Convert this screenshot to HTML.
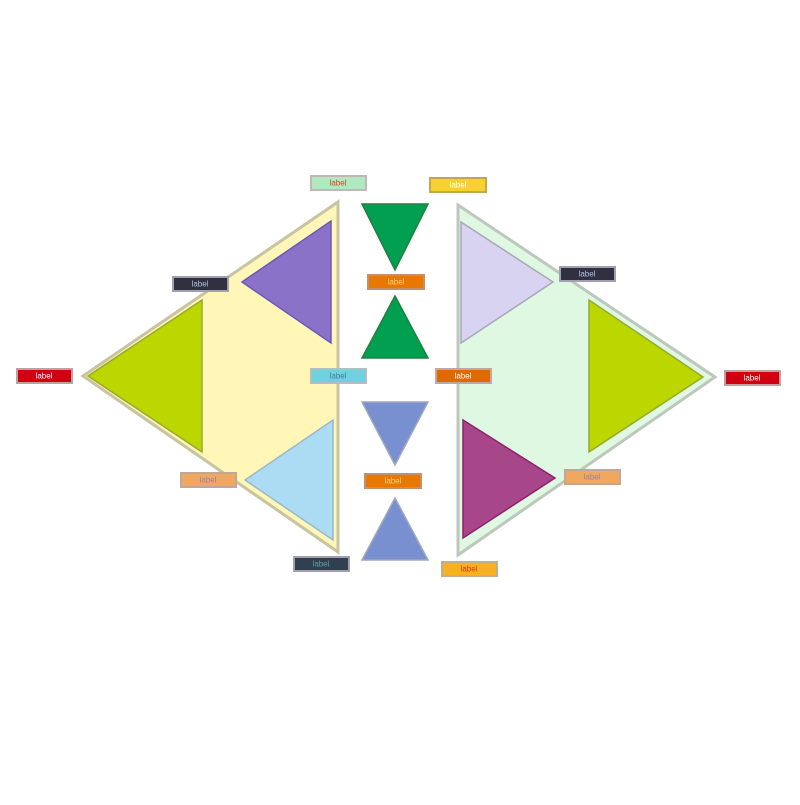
<!DOCTYPE html>
<html><head><meta charset="utf-8"><style>
body{margin:0;background:#fff;width:800px;height:800px;overflow:hidden}
svg text{font-family:"Liberation Sans",sans-serif;font-size:8px;text-anchor:middle;dominant-baseline:central}
</style></head><body>
<svg width="800" height="800" viewBox="0 0 800 800">
<g stroke-width="3">
<polygon points="83,376 338,202 338,552" fill="#fff6b8" stroke="#c8c4a0"/>
<polygon points="715,377 458,205 458,555" fill="#def8e2" stroke="#bcc8bc"/>
</g>
<g stroke-width="1.5">
<polygon points="88,376 202,300 202,452" fill="#bcd600" stroke="#98a830"/>
<polygon points="242,282 331,221 331,343" fill="#8a72c8" stroke="#6a58b8"/>
<polygon points="245,480 333,420 333,540" fill="#acdcf4" stroke="#98b8c8"/>
<polygon points="461,222 553,282 461,343" fill="#d9d3f2" stroke="#a8a8b8"/>
<polygon points="589,300 703,377 589,452" fill="#bcd600" stroke="#98a830"/>
<polygon points="463,420 555,478 463,538" fill="#a8468a" stroke="#902070"/>
<polygon points="362,204 428,204 395,270" fill="#00a050" stroke="#208040"/>
<polygon points="395,296 362,358 428,358" fill="#00a050" stroke="#208040"/>
<polygon points="362,402 428,402 395,465" fill="#7890d0" stroke="#a0a8c0"/>
<polygon points="395,498 362,560 428,560" fill="#7890d0" stroke="#a0a8c0"/>
</g>
<g stroke-width="2">
<rect x="311" y="176" width="55" height="14" fill="#b0e8c0" stroke="#c0b8b8"/><text x="338" y="183" fill="#e04020">label</text>
<rect x="430" y="178" width="56" height="14" fill="#f8d030" stroke="#c0a850"/><text x="458" y="185" fill="#fff">label</text>
<rect x="173" y="277" width="55" height="14" fill="#303040" stroke="#a0a0b0"/><text x="200" y="284" fill="#b0c0e0">label</text>
<rect x="560" y="267" width="55" height="14" fill="#303040" stroke="#a0a0b0"/><text x="587" y="274" fill="#b0c0e0">label</text>
<rect x="17" y="369" width="55" height="14" fill="#d00010" stroke="#c0a0a0"/><text x="44" y="376" fill="#fff">label</text>
<rect x="725" y="371" width="55" height="14" fill="#d00010" stroke="#c0a0a0"/><text x="752" y="378" fill="#fff">label</text>
<rect x="311" y="369" width="55" height="14" fill="#70d0e0" stroke="#b0c0c0"/><text x="338" y="376" fill="#4080a0">label</text>
<rect x="436" y="369" width="55" height="14" fill="#e06a00" stroke="#c0a8a8"/><text x="463" y="376" fill="#fff">label</text>
<rect x="368" y="275" width="56" height="14" fill="#e87800" stroke="#c09070"/><text x="396" y="282" fill="#ffd080">label</text>
<rect x="365" y="474" width="56" height="14" fill="#e87800" stroke="#c09070"/><text x="393" y="481" fill="#ffd080">label</text>
<rect x="181" y="473" width="55" height="14" fill="#f0a860" stroke="#c0a898"/><text x="208" y="480" fill="#a080a0">label</text>
<rect x="565" y="470" width="55" height="14" fill="#f0a860" stroke="#c0a898"/><text x="592" y="477" fill="#a080a0">label</text>
<rect x="294" y="557" width="55" height="14" fill="#304050" stroke="#a0a0a8"/><text x="321" y="564" fill="#60a0a0">label</text>
<rect x="442" y="562" width="55" height="14" fill="#f8b020" stroke="#c0b090"/><text x="469" y="569" fill="#e03030">label</text>
</g>
</svg>
</body></html>
